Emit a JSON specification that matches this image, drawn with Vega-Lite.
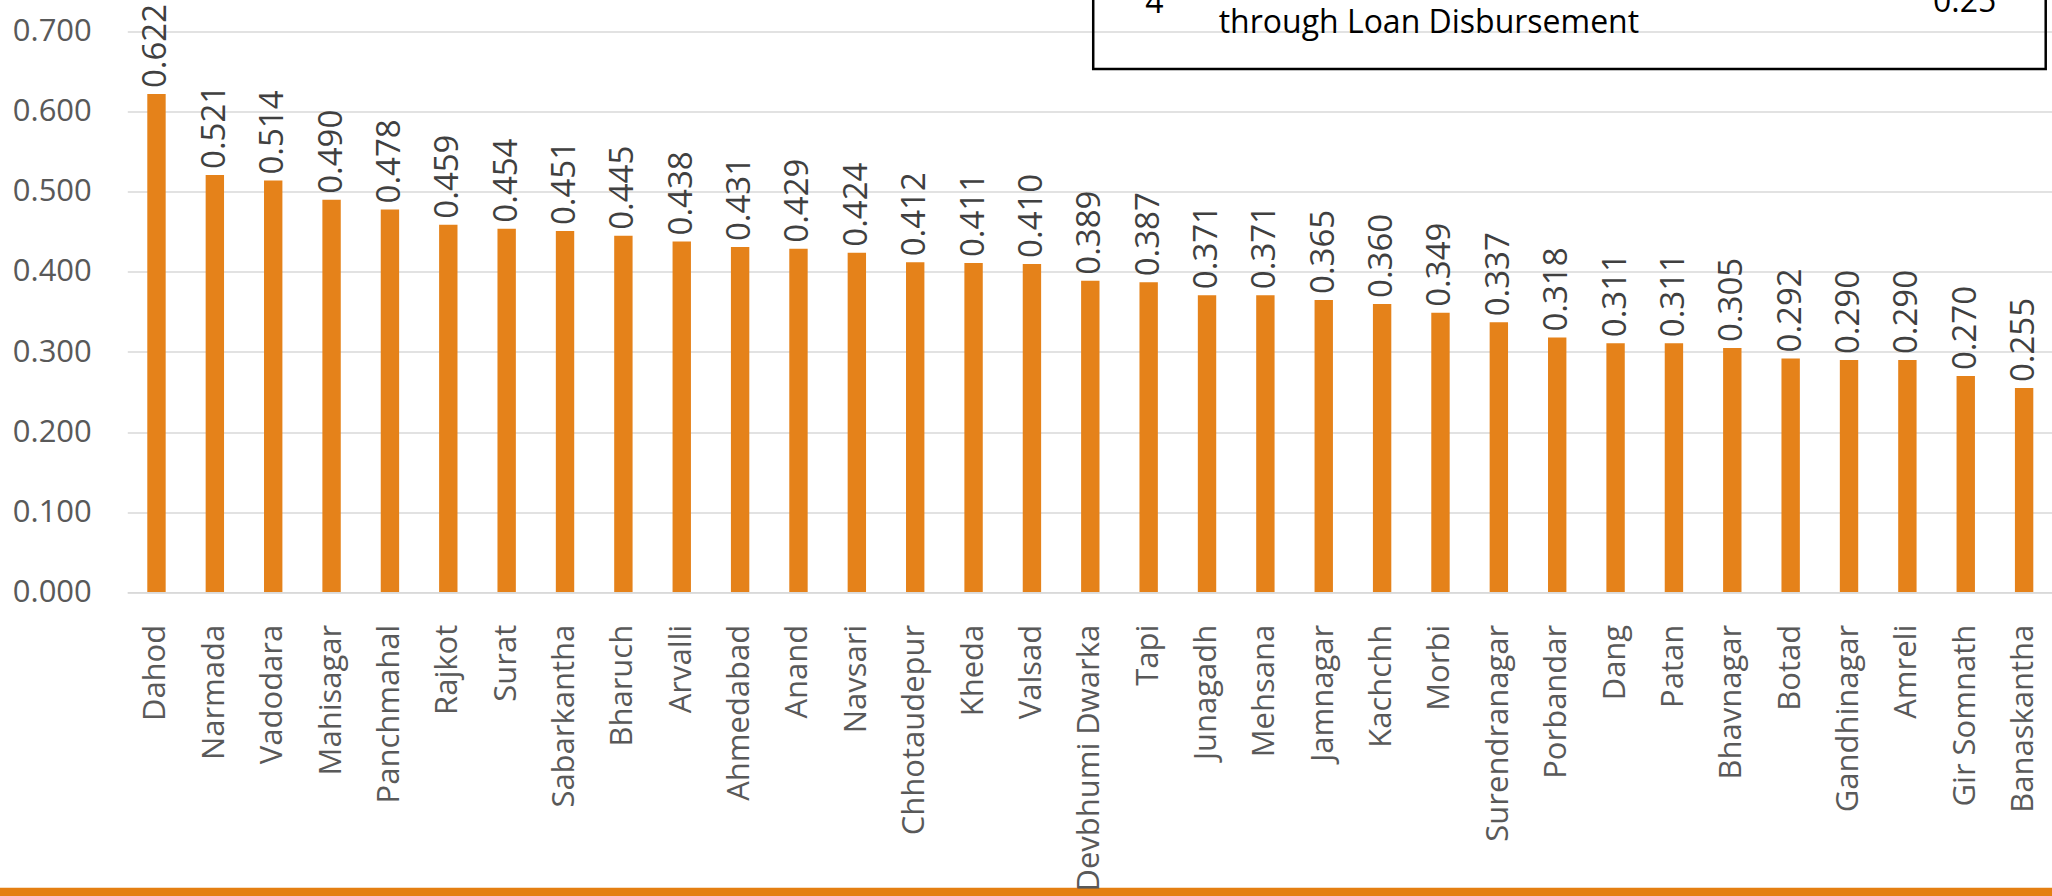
{
  "$schema": "https://vega.github.io/schema/vega-lite/v6.json",
  "autosize": {"type": "none"},
  "padding": {"left": 127.3, "top": 31.6, "right": 0, "bottom": 303.7},
  "width": 1926,
  "height": 560.7,
  "background": "white",
  "config": {"view": {"stroke": null}, "font": "Open Sans"},
  "datasets": {
    "bars": [
      {"district": "Dahod", "value": 0.622},
      {"district": "Narmada", "value": 0.521},
      {"district": "Vadodara", "value": 0.514},
      {"district": "Mahisagar", "value": 0.490},
      {"district": "Panchmahal", "value": 0.478},
      {"district": "Rajkot", "value": 0.459},
      {"district": "Surat", "value": 0.454},
      {"district": "Sabarkantha", "value": 0.451},
      {"district": "Bharuch", "value": 0.445},
      {"district": "Arvalli", "value": 0.438},
      {"district": "Ahmedabad", "value": 0.431},
      {"district": "Anand", "value": 0.429},
      {"district": "Navsari", "value": 0.424},
      {"district": "Chhotaudepur", "value": 0.412},
      {"district": "Kheda", "value": 0.411},
      {"district": "Valsad", "value": 0.410},
      {"district": "Devbhumi Dwarka", "value": 0.389},
      {"district": "Tapi", "value": 0.387},
      {"district": "Junagadh", "value": 0.371},
      {"district": "Mehsana", "value": 0.371},
      {"district": "Jamnagar", "value": 0.365},
      {"district": "Kachchh", "value": 0.360},
      {"district": "Morbi", "value": 0.349},
      {"district": "Surendranagar", "value": 0.337},
      {"district": "Porbandar", "value": 0.318},
      {"district": "Dang", "value": 0.311},
      {"district": "Patan", "value": 0.311},
      {"district": "Bhavnagar", "value": 0.305},
      {"district": "Botad", "value": 0.292},
      {"district": "Gandhinagar", "value": 0.290},
      {"district": "Amreli", "value": 0.290},
      {"district": "Gir Somnath", "value": 0.270},
      {"district": "Banaskantha", "value": 0.255}
    ],
    "box": [{"x": 16.55, "x2": 32.87, "y": 0.6532, "y2": 0.85}],
    "boxText": [
      {"label": "4", "x": 17.44, "y": 0.7232},
      {"label": "through Loan Disbursement", "x": 18.70, "y": 0.6982},
      {"label": "0.25", "x": 30.94, "y": 0.7244}
    ],
    "band": [{"x": -5, "x2": 40, "y": -0.3687, "y2": -0.45}]
  },
  "resolve": {"scale": {"x": "independent"}, "axis": {"x": "independent"}},
  "layer": [
    {
      "data": {"name": "bars"},
      "mark": {"type": "bar", "color": "#E5821A"},
      "encoding": {
        "x": {
          "field": "district", "type": "nominal", "sort": null,
          "scale": {"paddingInner": 0.685, "paddingOuter": 0.3425},
          "axis": {
            "title": null, "labelAngle": -90, "labelFontSize": 31,
            "labelColor": "#595959", "labelPadding": 32, "ticks": false,
            "domain": true, "domainColor": "#d9d9d9", "domainWidth": 1.5,
            "labelLimit": 0, "zindex": 1, "labelOverlap": false
          }
        },
        "y": {
          "field": "value", "type": "quantitative",
          "scale": {"domain": [0, 0.7], "nice": false},
          "axis": {
            "title": null, "values": [0, 0.1, 0.2, 0.3, 0.4, 0.5, 0.6, 0.7],
            "format": ".3f", "labelFontSize": 31, "labelColor": "#595959",
            "labelPadding": 36, "ticks": false, "domain": false,
            "gridColor": "#d9d9d9", "gridWidth": 1.5
          }
        }
      }
    },
    {
      "data": {"name": "bars"},
      "mark": {"type": "text", "angle": 270, "align": "left", "baseline": "middle", "dx": 6, "fontSize": 33, "color": "#404040"},
      "encoding": {
        "x": {"field": "district", "type": "nominal", "sort": null,
              "scale": {"type": "band", "paddingInner": 0.685, "paddingOuter": 0.3425}, "axis": null},
        "y": {"field": "value", "type": "quantitative", "scale": {"domain": [0, 0.7], "nice": false}},
        "text": {"field": "value", "type": "quantitative", "format": ".3f"}
      }
    },
    {
      "data": {"name": "box"},
      "mark": {"type": "rect", "fill": null, "fillOpacity": 0, "stroke": "#000000", "strokeWidth": 2.5},
      "encoding": {
        "x": {"field": "x", "type": "quantitative", "scale": {"domain": [0, 33], "nice": false, "zero": false}, "axis": null},
        "x2": {"field": "x2"},
        "y": {"field": "y", "type": "quantitative", "scale": {"domain": [0, 0.7], "nice": false}},
        "y2": {"field": "y2"}
      }
    },
    {
      "data": {"name": "boxText"},
      "mark": {"type": "text", "align": "left", "baseline": "alphabetic", "fontSize": 32, "color": "#000000"},
      "encoding": {
        "x": {"field": "x", "type": "quantitative", "scale": {"domain": [0, 33], "nice": false, "zero": false}, "axis": null},
        "y": {"field": "y", "type": "quantitative", "scale": {"domain": [0, 0.7], "nice": false}},
        "text": {"field": "label"}
      }
    },
    {
      "data": {"name": "band"},
      "mark": {"type": "rect", "color": "#E47F12"},
      "encoding": {
        "x": {"field": "x", "type": "quantitative", "scale": {"domain": [0, 33], "nice": false, "zero": false}, "axis": null},
        "x2": {"field": "x2"},
        "y": {"field": "y", "type": "quantitative", "scale": {"domain": [0, 0.7], "nice": false}},
        "y2": {"field": "y2"}
      }
    }
  ]
}
